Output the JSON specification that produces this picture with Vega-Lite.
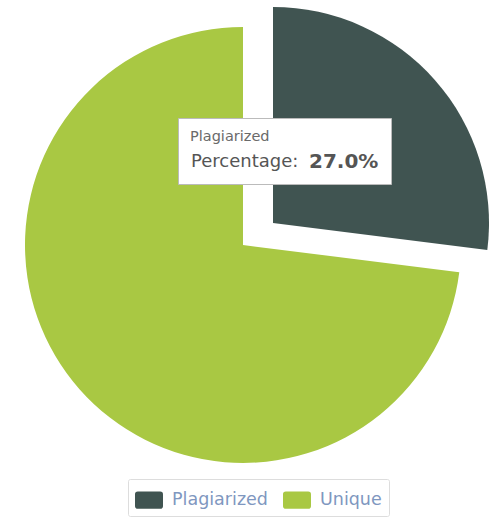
{
  "$schema": "https://vega.github.io/schema/vega-lite/v6.json",
  "width": 486,
  "height": 490,
  "padding": {"left": 0, "top": 0, "right": 13, "bottom": 27},
  "autosize": {"type": "none"},
  "background": "white",
  "config": {"view": {"stroke": null}},
  "layer": [
    {
      "data": {"values": [
        {"category": "Plagiarized", "percent": 27},
        {"category": "Unique", "percent": 73}
      ]},
      "transform": [
        {"stack": "percent", "groupby": [], "as": ["v0", "v1"], "sort": [{"field": "category", "order": "ascending"}]}
      ],
      "encoding": {
        "theta": {"field": "v0", "type": "quantitative", "scale": {"domain": [0, 100]}},
        "theta2": {"field": "v1"},
        "color": {
          "field": "category", "type": "nominal",
          "scale": {"domain": ["Plagiarized", "Unique"], "range": ["#405451", "#a9c843"]},
          "legend": {
            "orient": "none", "legendX": 128, "legendY": 479, "direction": "horizontal",
            "title": null,
            "symbolType": "M-0.8,-0.62H0.8Q1,-0.62 1,-0.42V0.42Q1,0.62 0.8,0.62H-0.8Q-1,0.62 -1,0.42V-0.42Q-1,-0.62 -0.8,-0.62Z",
            "symbolSize": 784, "symbolStrokeWidth": 0,
            "labelFont": "DejaVu Sans", "labelFontSize": 17.5, "labelColor": "#7f97c0", "labelOffset": 9,
            "columnPadding": 15, "padding": 7,
            "strokeColor": "#dddddd", "fillColor": "white", "cornerRadius": 2
          }
        }
      },
      "layer": [
        {
          "transform": [{"filter": "datum.category == 'Unique'"}],
          "mark": {"type": "arc", "outerRadius": 218}
        },
        {
          "transform": [{"filter": "datum.category == 'Plagiarized'"}],
          "mark": {"type": "arc", "outerRadius": 216, "xOffset": 30, "yOffset": -22}
        }
      ]
    },
    {
      "data": {"values": [{"tip": "Percentage:"}, {"tip": "27.0%"}]},
      "mark": {"type": "text", "opacity": 0},
      "encoding": {
        "color": {
          "field": "tip", "type": "nominal",
          "scale": {"domain": ["Percentage:", "27.0%"], "range": ["#555555", "#555555"]},
          "legend": {
            "orient": "none", "legendX": 178, "legendY": 118, "direction": "horizontal",
            "title": "Plagiarized", "titleFont": "DejaVu Sans", "titleFontSize": 14.5, "titleFontWeight": "normal", "titleColor": "#6a6a6a", "titlePadding": 8,
            "labelFont": "DejaVu Sans", "labelFontSize": 18, "labelColor": "#555555", "labelOffset": -17,
            "symbolSize": 0.001, "symbolOpacity": 0, "symbolStrokeWidth": 0.001,
            "columnPadding": 9, "padding": 12,
            "strokeColor": "#bbbbbb", "fillColor": "white",
            "encode": {"labels": {"update": {
              "fontWeight": {"signal": "datum.label == '27.0%' ? 'bold' : 'normal'"},
              "fontSize": {"signal": "datum.label == '27.0%' ? 20 : 18"}
            }}}
          }
        }
      }
    }
  ],
  "resolve": {"scale": {"color": "independent"}}
}
